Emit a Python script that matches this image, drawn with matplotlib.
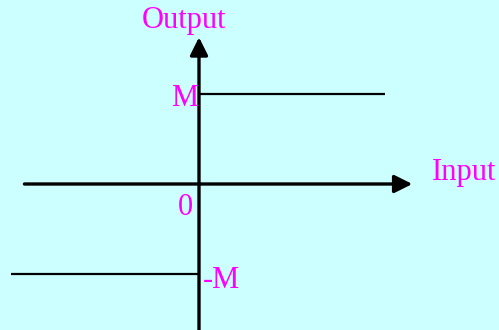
import matplotlib.pyplot as plt

# relay characteristic: output is +M for positive input, -M for negative input
M = 1.0
input_pos = [0.0, 2.07]
output_pos = [M, M]
input_neg = [-2.09, 0.0]
output_neg = [-M, -M]

# axis extents (in the same units)
x_axis = [-1.94, 2.37]
y_axis = [-1.65, 1.63]

labels = {'x': 'Input', 'y': 'Output', 'pos': 'M', 'neg': '-M', 'zero': '0'}

bg = '#ccffff'
magenta = '#ff00ff'

plt.rcParams['font.family'] = ['Liberation Serif', 'DejaVu Serif']

fig = plt.figure(figsize=(4.99, 3.30), dpi=100, facecolor=bg)
ax = fig.add_axes([0, 0, 1, 1])
ax.set_facecolor(bg)
ax.set_xlim(-199 / 90, 300 / 90)
ax.set_ylim(-146 / 90, 184 / 90)
ax.axis('off')

# axes with arrow heads
arrow = dict(arrowstyle='-|>', color='black', lw=2.4, mutation_scale=27, shrinkA=0, shrinkB=0)
ax.annotate('', xy=(x_axis[1], 0), xytext=(x_axis[0], 0), arrowprops=arrow)
ax.annotate('', xy=(0, y_axis[1]), xytext=(0, y_axis[0]), arrowprops=arrow)

# relay output levels
ax.plot(input_pos, output_pos, color='black', lw=1.6, solid_capstyle='butt')
ax.plot(input_neg, output_neg, color='black', lw=1.6, solid_capstyle='butt')

ax.text(-0.17, 1.82, labels['y'], color=magenta, fontsize=22, ha='center', va='center')
ax.text(2.95, 0.13, labels['x'], color=magenta, fontsize=22, ha='center', va='center')
ax.text(-0.01, M - 0.05, labels['pos'], color=magenta, fontsize=22, ha='right', va='center')
ax.text(0.04, -M - 0.07, labels['neg'], color=magenta, fontsize=22, ha='left', va='center')
ax.text(-0.15, -0.26, labels['zero'], color=magenta, fontsize=22, ha='center', va='center')

fig.savefig('out.png', dpi=100, facecolor=bg)
